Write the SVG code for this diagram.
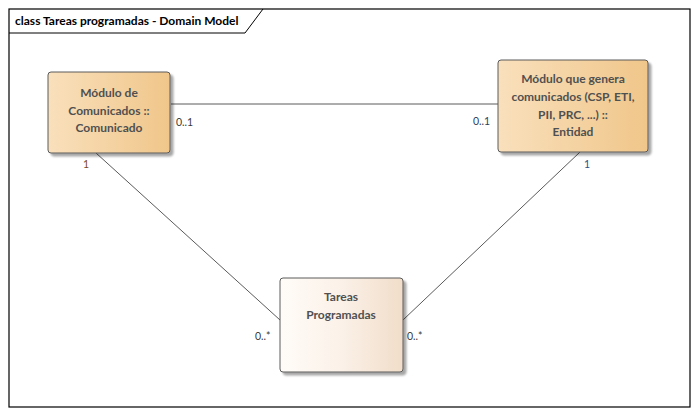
<svg xmlns="http://www.w3.org/2000/svg" width="699" height="415" viewBox="0 0 699 415">
<defs>
<linearGradient id="gOrange" x1="0" y1="0" x2="1" y2="0">
<stop offset="0" stop-color="#F9E0BC"/>
<stop offset="1" stop-color="#F0C68A"/>
</linearGradient>
<linearGradient id="gLight" x1="0" y1="0" x2="1" y2="0">
<stop offset="0" stop-color="#FFFCF8"/>
<stop offset="0.5" stop-color="#FBF1E8"/>
<stop offset="1" stop-color="#F1DDC9"/>
</linearGradient>
<filter id="sh" x="-10%" y="-10%" width="130%" height="130%">
<feGaussianBlur in="SourceAlpha" stdDeviation="1.2"/>
<feOffset dx="2.5" dy="2.5" result="b"/>
<feComponentTransfer><feFuncA type="linear" slope="0.35"/></feComponentTransfer>
<feMerge><feMergeNode/><feMergeNode in="SourceGraphic"/></feMerge>
</filter>
</defs>
<style>
.box{stroke:#5a5a5a;stroke-width:1;filter:url(#sh);}
.nt{font-family:Lato,"Liberation Sans",sans-serif;font-size:12px;font-weight:bold;fill:#505050;text-anchor:middle;}
.lbl{font-family:Lato,"Liberation Sans",sans-serif;font-size:10.5px;fill:#3a3a3a;}
.conn{stroke:#5a5a5a;stroke-width:1;fill:none;}
.title{font-family:Lato,"Liberation Sans",sans-serif;font-size:12px;font-weight:bold;fill:#000;}
</style>
<rect x="0" y="0" width="699" height="415" fill="#fff"/>
<g id="frame">
<rect x="9" y="9" width="681" height="398" fill="none" stroke="#000" stroke-width="1.2"/>
<path d="M9 33 H245 L263 9" fill="none" stroke="#000" stroke-width="1"/>
<text class="title" x="15" y="25">class Tareas programadas - Domain Model</text>
</g>
<g id="connectors">
<line class="conn" x1="171" y1="104" x2="498" y2="104"/>
<line class="conn" x1="96" y1="153" x2="280" y2="320"/>
<line class="conn" x1="580" y1="152" x2="403" y2="320"/>
<text class="lbl" x="176" y="126" fill="#3a3a3a">0..1</text>
<text class="lbl" x="473" y="125" style="fill:#2e3e5c">0..1</text>
<text class="lbl" x="83" y="168" style="fill:#7a4a22">1</text>
<text class="lbl" x="584" y="168" style="fill:#2e4f86">1</text>
<text class="lbl" x="255" y="340">0..*</text>
<text class="lbl" x="407" y="340">0..*</text>
</g>
<g id="node-comunicado">
<rect class="box" x="48" y="72" width="122" height="81" rx="3" fill="url(#gOrange)"/>
<text class="nt" x="109" y="97">Módulo de</text>
<text class="nt" x="109" y="115">Comunicados ::</text>
<text class="nt" x="109" y="132">Comunicado</text>
</g>
<g id="node-entidad">
<rect class="box" x="498" y="60" width="150" height="92" rx="3" fill="url(#gOrange)"/>
<text class="nt" x="573" y="83">Módulo que genera</text>
<text class="nt" x="573" y="101">comunicados (CSP, ETI,</text>
<text class="nt" x="573" y="119">PII, PRC, ...) ::</text>
<text class="nt" x="573" y="136">Entidad</text>
</g>
<g id="node-tareas">
<rect class="box" x="280" y="278" width="123" height="94" rx="3" fill="url(#gLight)"/>
<text class="nt" x="341" y="301">Tareas</text>
<text class="nt" x="341" y="319">Programadas</text>
</g>
</svg>
